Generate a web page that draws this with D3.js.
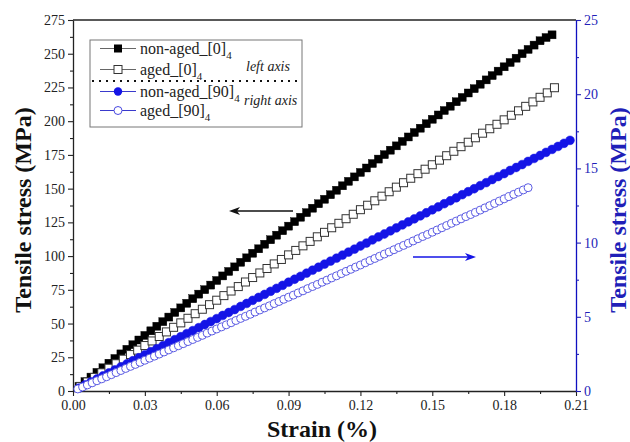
<!DOCTYPE html>
<html><head><meta charset="utf-8">
<script src="https://cdn.jsdelivr.net/npm/d3@7/dist/d3.min.js"></script>
<style>body{margin:0;background:#fff}</style>
</head><body><svg id="c" width="630" height="442"></svg>
<script>
// ---- data ----
const strainA = [0.0025,0.005,0.0075,0.01,0.0125,0.015,0.0175,0.02,0.0225,0.025,0.0275,0.03,0.0325,0.035,0.0375,0.04,0.0425,0.045,0.0475,0.05,0.0525,0.055,0.0575,0.06,0.0625,0.065,0.0675,0.07,0.0725,0.075,0.0775,0.08,0.0825,0.085,0.0875,0.09,0.0925,0.095,0.0975,0.1,0.1025,0.105,0.1075,0.11,0.1125,0.115,0.1175,0.12,0.1225,0.125,0.1275,0.13,0.1325,0.135,0.1375,0.14,0.1425,0.145,0.1475,0.15,0.1525,0.155,0.1575,0.16,0.1625,0.165,0.1675,0.17,0.1725,0.175,0.1775,0.18,0.1825,0.185,0.1875,0.19,0.1925,0.195,0.1975,0.2,0.2025,0.205,0.2075];
const strainB = [0.003,0.006,0.009,0.012,0.015,0.018,0.021,0.024,0.027,0.03,0.033,0.036,0.039,0.042,0.045,0.048,0.051,0.054,0.057,0.06,0.063,0.066,0.069,0.072,0.075,0.078,0.081,0.084,0.087,0.09,0.093,0.096,0.099,0.102,0.105,0.108,0.111,0.114,0.117,0.12,0.123,0.126,0.129,0.132,0.135,0.138,0.141,0.144,0.147,0.15,0.153,0.156,0.159,0.162,0.165,0.168,0.171,0.174,0.177,0.18,0.183,0.186,0.189,0.192,0.195,0.198,0.201];
const strainC = [0.002,0.004,0.006,0.008,0.01,0.012,0.014,0.016,0.018,0.02,0.022,0.024,0.026,0.028,0.03,0.032,0.034,0.036,0.038,0.04,0.042,0.044,0.046,0.048,0.05,0.052,0.054,0.056,0.058,0.06,0.062,0.064,0.066,0.068,0.07,0.072,0.074,0.076,0.078,0.08,0.082,0.084,0.086,0.088,0.09,0.092,0.094,0.096,0.098,0.1,0.102,0.104,0.106,0.108,0.11,0.112,0.114,0.116,0.118,0.12,0.122,0.124,0.126,0.128,0.13,0.132,0.134,0.136,0.138,0.14,0.142,0.144,0.146,0.148,0.15,0.152,0.154,0.156,0.158,0.16,0.162,0.164,0.166,0.168,0.17,0.172,0.174,0.176,0.178,0.18,0.182,0.184,0.186,0.188,0.19];

// non-aged_[0]4 (left axis, MPa), strainA
const stressNonAged0 = [3.4,6.9,10.3,13.8,17.2,20.6,24.1,27.5,30.9,34.3,37.8,41.2,44.6,48.0,51.4,54.8,58.2,61.6,65.0,68.4,71.8,75.1,78.5,81.9,85.3,88.6,92.0,95.4,98.7,102.1,105.4,108.8,112.1,115.5,118.8,122.2,125.5,128.8,132.2,135.5,138.8,142.1,145.5,148.8,152.1,155.4,158.7,162.0,165.3,168.6,171.9,175.2,178.5,181.7,185.0,188.3,191.6,194.8,198.1,201.4,204.6,207.9,211.1,214.4,217.6,220.9,224.1,227.4,230.6,233.8,237.1,240.3,243.5,246.7,250.0,253.2,256.4,259.6,262.0,264.0];
// aged_[0]4 (left axis, MPa), strainB
const stressAged0 = [3.4,6.7,10.1,13.5,16.9,20.2,23.6,27.0,30.3,33.7,37.1,40.4,43.8,47.2,50.5,53.9,57.3,60.6,64.0,67.3,70.7,74.1,77.4,80.8,84.1,87.5,90.8,94.2,97.5,100.9,104.2,107.6,110.9,114.3,117.6,121.0,124.3,127.7,131.0,134.4,137.7,141.0,144.4,147.7,151.1,154.4,157.7,161.1,164.4,167.7,171.1,174.4,177.7,181.1,184.4,187.7,191.1,194.4,197.7,201.0,204.4,207.7,211.0,214.3,217.7,221.0,224.8];
// non-aged_[90]4 (right axis, MPa), strainA
const stressNonAged90 = [0.20,0.41,0.61,0.81,1.02,1.22,1.42,1.63,1.83,2.04,2.24,2.44,2.65,2.85,3.05,3.26,3.46,3.66,3.87,4.07,4.27,4.48,4.68,4.88,5.09,5.29,5.49,5.70,5.90,6.11,6.31,6.51,6.72,6.92,7.12,7.33,7.53,7.73,7.94,8.14,8.34,8.55,8.75,8.95,9.16,9.36,9.56,9.77,9.97,10.18,10.38,10.58,10.79,10.99,11.19,11.40,11.60,11.80,12.01,12.21,12.41,12.62,12.82,13.02,13.23,13.43,13.63,13.84,14.04,14.25,14.45,14.65,14.86,15.06,15.26,15.47,15.67,15.87,16.08,16.28,16.48,16.69,16.89];
// aged_[90]4 (right axis, MPa), strainC
const stressAged90 = [0.14,0.27,0.41,0.55,0.69,0.82,0.96,1.10,1.24,1.38,1.52,1.66,1.79,1.93,2.07,2.21,2.35,2.49,2.63,2.77,2.91,3.05,3.19,3.33,3.47,3.61,3.75,3.90,4.04,4.18,4.32,4.46,4.60,4.75,4.89,5.03,5.17,5.32,5.46,5.60,5.74,5.89,6.03,6.18,6.32,6.46,6.61,6.75,6.90,7.04,7.18,7.33,7.47,7.62,7.76,7.91,8.06,8.20,8.35,8.49,8.64,8.79,8.93,9.08,9.23,9.37,9.52,9.67,9.81,9.96,10.11,10.26,10.41,10.55,10.70,10.85,11.00,11.15,11.30,11.45,11.60,11.75,11.89,12.04,12.19,12.34,12.49,12.64,12.80,12.95,13.10,13.25,13.40,13.55,13.70];

const xTicks = [0,0.03,0.06,0.09,0.12,0.15,0.18,0.21];
const xMinorTicks = [0.015,0.045,0.075,0.105,0.135,0.165,0.195];
const yLeftTicks = [0,25,50,75,100,125,150,175,200,225,250,275];
const yLeftMinor = [12.5,37.5,62.5,87.5,112.5,137.5,162.5,187.5,212.5,237.5,262.5];
const yRightTicks = [0,5,10,15,20,25];
const yRightMinor = [2.5,7.5,12.5,17.5,22.5];
const seriesNames = ["non-aged_[0]","aged_[0]","non-aged_[90]","aged_[90]"];
const seriesSub = "4";

// ---- drawing ----
const svg = d3.select("#c");
const L = 73, R = 576, T = 20, B = 391;
const BLUE = "#1414e6";
const AXBLUE = "#1f1fb8";

const x = d3.scaleLinear().domain([0, 0.21]).range([L, R]);
const yL = d3.scaleLinear().domain([0, 275]).range([B, T]);
const yR = d3.scaleLinear().domain([0, 25]).range([B, T]);

function styleAxis(g, color) {
  g.attr("font-family", null);
  g.selectAll("path.domain").attr("stroke", color).attr("stroke-width", 1.3);
  g.selectAll(".tick line").attr("stroke", color).attr("stroke-width", 1.1);
  g.selectAll(".tick text").attr("fill", color).attr("font-size", 14);
}

// top border
svg.append("line").attr("x1", L).attr("x2", R).attr("y1", T).attr("y2", T)
  .attr("stroke", "#222").attr("stroke-width", 1.3);

// x axis
const gx = svg.append("g").attr("transform", `translate(0,${B})`)
  .call(d3.axisBottom(x).tickValues(xTicks).tickFormat(d3.format(".2f")).tickSize(5).tickPadding(4).tickSizeOuter(0));
styleAxis(gx, "#222");
const gxm = svg.append("g").attr("transform", `translate(0,${B})`)
  .call(d3.axisBottom(x).tickValues(xMinorTicks).tickFormat("").tickSize(3).tickSizeOuter(0));
gxm.select("path.domain").remove();
styleAxis(gxm, "#222");

// left axis
const gl = svg.append("g").attr("transform", `translate(${L},0)`)
  .call(d3.axisLeft(yL).tickValues(yLeftTicks).tickSize(5).tickPadding(3).tickSizeOuter(0));
styleAxis(gl, "#222");
const glm = svg.append("g").attr("transform", `translate(${L},0)`)
  .call(d3.axisLeft(yL).tickValues(yLeftMinor).tickFormat("").tickSize(3).tickSizeOuter(0));
glm.select("path.domain").remove();
styleAxis(glm, "#222");

// right axis
const gr = svg.append("g").attr("transform", `translate(${R},0)`)
  .call(d3.axisRight(yR).tickValues(yRightTicks).tickSize(5).tickPadding(3).tickSizeOuter(0));
styleAxis(gr, AXBLUE);
gr.select("path.domain").attr("stroke", "#1010c0");
const grm = svg.append("g").attr("transform", `translate(${R},0)`)
  .call(d3.axisRight(yR).tickValues(yRightMinor).tickFormat("").tickSize(3).tickSizeOuter(0));
grm.select("path.domain").remove();
styleAxis(grm, AXBLUE);

// titles
svg.append("text").attr("transform", `translate(31,210) rotate(-90)`)
  .attr("text-anchor", "middle").attr("font-weight", "bold")
  .attr("font-size", 24).attr("fill", "#111").text("Tensile stress (MPa)");
svg.append("text").attr("transform", `translate(626,210) rotate(-90)`)
  .attr("text-anchor", "middle").attr("font-weight", "bold")
  .attr("font-size", 24).attr("fill", AXBLUE).text("Tensile stress (MPa)");
svg.append("text").attr("x", 322).attr("y", 437)
  .attr("text-anchor", "middle").attr("font-weight", "bold")
  .attr("font-size", 24).attr("fill", "#111").text("Strain (%)");

// series
const S = 8;
const dNA0 = stressNonAged0.map((v, i) => [strainA[i], v]);
const dA0 = stressAged0.map((v, i) => [strainB[i], v]);
const dNA90 = stressNonAged90.map((v, i) => [strainA[i], v]);
const dA90 = stressAged90.map((v, i) => [strainC[i], v]);

svg.append("g").selectAll("rect").data(dNA0).join("rect")
  .attr("x", d => x(d[0]) - S / 2).attr("y", d => yL(d[1]) - S / 2)
  .attr("width", S).attr("height", S).attr("fill", "#000").attr("stroke", "#000").attr("stroke-width", 0.4);
svg.append("g").selectAll("rect").data(dA0).join("rect")
  .attr("x", d => x(d[0]) - S / 2).attr("y", d => yL(d[1]) - S / 2)
  .attr("width", S).attr("height", S).attr("fill", "#fff").attr("stroke", "#333").attr("stroke-width", 1);
svg.append("g").selectAll("circle").data(dNA90).join("circle")
  .attr("cx", d => x(d[0])).attr("cy", d => yR(d[1])).attr("r", 4.4)
  .attr("fill", BLUE).attr("stroke", BLUE).attr("stroke-width", 0.5);
svg.append("g").selectAll("circle").data(dA90).join("circle")
  .attr("cx", d => x(d[0])).attr("cy", d => yR(d[1])).attr("r", 4)
  .attr("fill", "#fff").attr("stroke", "#4a4ae0").attr("stroke-width", 0.9);

// arrows
function arrow(x1, x2, y, color) {
  const dir = Math.sign(x2 - x1);
  svg.append("line").attr("x1", x1).attr("x2", x2 - dir * 8).attr("y1", y).attr("y2", y)
    .attr("stroke", color).attr("stroke-width", 1.6);
  svg.append("path").attr("d", `M${x2},${y} L${x2 - dir * 11},${y - 4} L${x2 - dir * 8},${y} L${x2 - dir * 11},${y + 4} Z`)
    .attr("fill", color);
}
arrow(293, 229, 211, "#111");
arrow(413, 476, 257, BLUE);

// legend
const lg = svg.append("g");
lg.append("rect").attr("x", 90).attr("y", 40).attr("width", 212).attr("height", 87)
  .attr("fill", "#fff").attr("stroke", "#777").attr("stroke-width", 1);
const rowY = [48.5, 69.5, 91.5, 110.5];
const lineCol = ["#666", "#666", "#3a3acc", "#3a3acc"];
seriesNames.forEach((name, i) => {
  const y = rowY[i];
  lg.append("line").attr("x1", 100).attr("x2", 136).attr("y1", y).attr("y2", y)
    .attr("stroke", lineCol[i]).attr("stroke-width", 1);
  if (i === 0) lg.append("rect").attr("x", 114).attr("y", y - 4).attr("width", 8).attr("height", 8).attr("fill", "#000");
  if (i === 1) lg.append("rect").attr("x", 114).attr("y", y - 4).attr("width", 8).attr("height", 8).attr("fill", "#fff").attr("stroke", "#333");
  if (i === 2) lg.append("circle").attr("cx", 118).attr("cy", y).attr("r", 4.2).attr("fill", BLUE);
  if (i === 3) lg.append("circle").attr("cx", 118).attr("cy", y).attr("r", 4).attr("fill", "#fff").attr("stroke", "#4a4ae0");
  const t = lg.append("text").attr("x", 140).attr("y", y + 5)
    .attr("font-size", 16).attr("fill", "#222");
  t.append("tspan").text(name);
  t.append("tspan").attr("dy", 5).attr("font-size", 11).text(seriesSub);
});
lg.append("line").attr("x1", 92).attr("x2", 300).attr("y1", 81).attr("y2", 81)
  .attr("stroke", "#111").attr("stroke-width", 2).attr("stroke-dasharray", "2,5");
lg.append("text").attr("x", 246).attr("y", 71).attr("font-style", "italic")
  .attr("font-size", 14).attr("fill", "#222").text("left axis");
lg.append("text").attr("x", 244).attr("y", 105).attr("font-style", "italic")
  .attr("font-size", 14).attr("fill", "#222").text("right axis");

// serif face for every text (single family name)
svg.selectAll("text").style("font-family", '"Liberation Serif"');
</script>
</body></html>
